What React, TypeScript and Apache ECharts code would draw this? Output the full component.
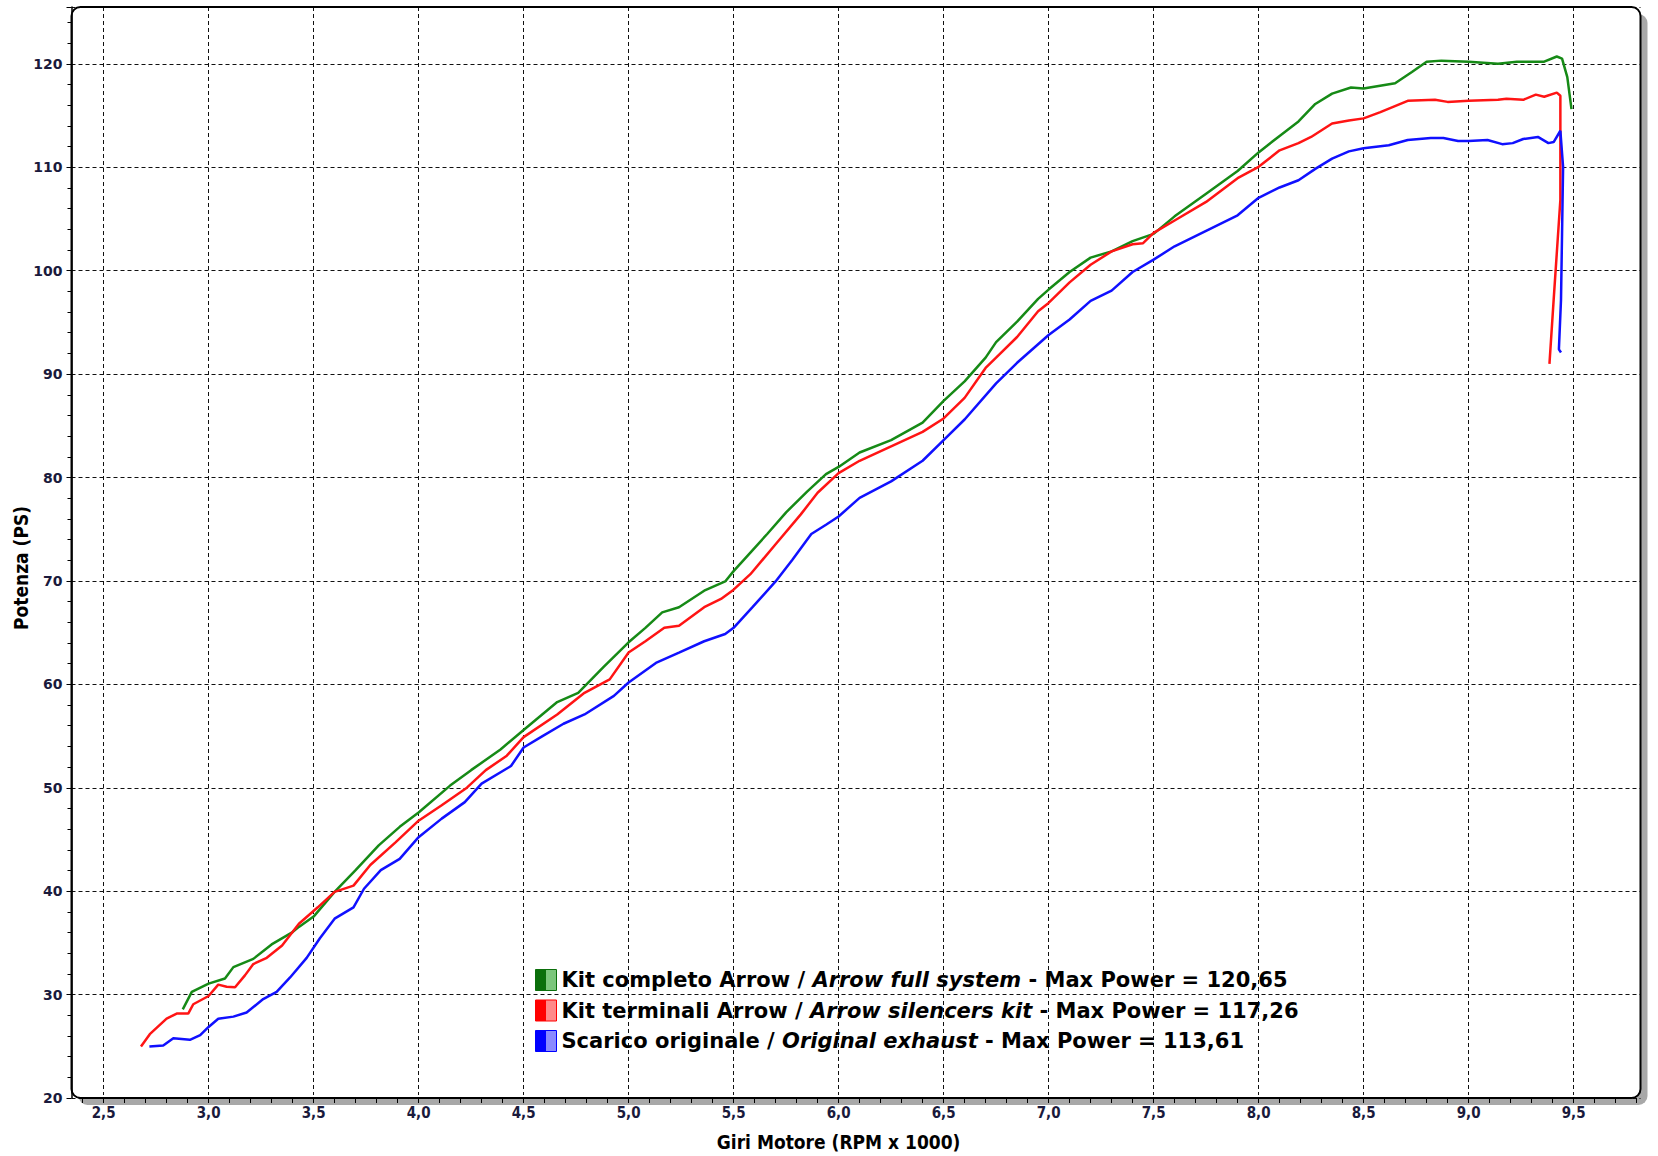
import React, { useEffect, useRef } from "react";
import * as echarts from "echarts";

// ---- data (RPM x 1000, PS) ----
const fullRpm = [2.877, 2.92, 3.0, 3.078, 3.118, 3.213, 3.3, 3.4, 3.43, 3.5, 3.6, 3.7, 3.81, 3.91, 4.0, 4.15, 4.25, 4.39, 4.5, 4.66, 4.76, 4.88, 5.0, 5.08, 5.16, 5.24, 5.36, 5.46, 5.5, 5.58, 5.66, 5.75, 5.85, 5.94, 6.0, 6.1, 6.25, 6.4, 6.5, 6.6, 6.7, 6.75, 6.85, 6.95, 7.0, 7.1, 7.2, 7.3, 7.4, 7.5, 7.6, 7.75, 7.9, 8.0, 8.1, 8.19, 8.27, 8.35, 8.44, 8.5, 8.65, 8.73, 8.8, 8.87, 9.0, 9.14, 9.23, 9.36, 9.42, 9.445, 9.47, 9.49];
const fullPs = [28.3, 30.0, 30.8, 31.3, 32.4, 33.2, 34.6, 35.8, 36.3, 37.3, 39.7, 41.8, 44.2, 46.0, 47.4, 50.0, 51.5, 53.5, 55.4, 58.1, 59.0, 61.5, 63.9, 65.3, 66.8, 67.3, 68.9, 69.8, 70.8, 72.6, 74.4, 76.5, 78.5, 80.2, 80.9, 82.3, 83.5, 85.2, 87.3, 89.2, 91.5, 93.0, 95.0, 97.2, 98.1, 99.8, 101.2, 101.8, 102.8, 103.5, 105.2, 107.4, 109.6, 111.4, 113.0, 114.4, 116.1, 117.1, 117.7, 117.6, 118.1, 119.2, 120.2, 120.3, 120.2, 120.0, 120.2, 120.2, 120.7, 120.5, 118.7, 115.6];

const silRpm = [2.678, 2.72, 2.8, 2.848, 2.903, 2.927, 3.0, 3.046, 3.086, 3.126, 3.173, 3.213, 3.277, 3.35, 3.43, 3.52, 3.6, 3.69, 3.77, 3.89, 4.0, 4.11, 4.23, 4.32, 4.42, 4.5, 4.66, 4.79, 4.91, 5.0, 5.08, 5.17, 5.24, 5.36, 5.44, 5.5, 5.58, 5.7, 5.82, 5.9, 6.0, 6.1, 6.25, 6.4, 6.5, 6.6, 6.7, 6.75, 6.85, 6.95, 7.0, 7.1, 7.2, 7.3, 7.4, 7.45, 7.5, 7.6, 7.75, 7.9, 8.0, 8.1, 8.19, 8.25, 8.35, 8.43, 8.5, 8.58, 8.71, 8.84, 8.9, 9.0, 9.14, 9.18, 9.26, 9.32, 9.36, 9.42, 9.437, 9.437, 9.405, 9.385];
const silPs = [24.7, 25.9, 27.4, 27.9, 27.9, 28.8, 29.6, 30.7, 30.5, 30.45, 31.6, 32.7, 33.3, 34.5, 36.6, 38.2, 39.7, 40.3, 42.3, 44.5, 46.6, 48.1, 49.8, 51.5, 52.9, 54.7, 56.9, 59.0, 60.3, 62.9, 64.0, 65.3, 65.5, 67.3, 68.1, 69.0, 70.5, 73.4, 76.3, 78.4, 80.3, 81.5, 82.9, 84.3, 85.6, 87.6, 90.5, 91.5, 93.5, 96.0, 96.8, 98.8, 100.5, 101.8, 102.5, 102.6, 103.6, 104.8, 106.6, 108.9, 110.0, 111.6, 112.3, 112.9, 114.2, 114.5, 114.7, 115.3, 116.4, 116.5, 116.3, 116.4, 116.5, 116.6, 116.5, 117.0, 116.8, 117.2, 116.9, 106.8, 97.1, 90.9];

const origRpm = [2.718, 2.784, 2.832, 2.911, 2.96, 3.0, 3.046, 3.118, 3.181, 3.26, 3.324, 3.388, 3.467, 3.53, 3.6, 3.69, 3.74, 3.82, 3.91, 4.0, 4.11, 4.22, 4.3, 4.44, 4.5, 4.59, 4.69, 4.79, 4.93, 5.0, 5.13, 5.24, 5.36, 5.46, 5.5, 5.59, 5.7, 5.78, 5.87, 5.94, 6.0, 6.1, 6.25, 6.4, 6.5, 6.6, 6.75, 6.85, 7.0, 7.1, 7.2, 7.3, 7.4, 7.5, 7.6, 7.75, 7.9, 8.0, 8.1, 8.19, 8.27, 8.35, 8.43, 8.5, 8.62, 8.71, 8.82, 8.88, 8.95, 9.0, 9.09, 9.16, 9.21, 9.26, 9.33, 9.38, 9.405, 9.437, 9.45, 9.445, 9.44, 9.43, 9.44];
const origPs = [24.7, 24.8, 25.5, 25.35, 25.8, 26.6, 27.4, 27.6, 28.0, 29.3, 30.0, 31.4, 33.3, 35.2, 37.1, 38.2, 40.0, 41.8, 42.9, 45.0, 46.8, 48.4, 50.2, 51.9, 53.7, 54.8, 56.0, 56.9, 58.7, 60.0, 61.9, 62.9, 64.0, 64.7, 65.3, 67.3, 69.8, 71.9, 74.4, 75.3, 76.1, 77.9, 79.5, 81.5, 83.5, 85.5, 89.0, 91.0, 93.7, 95.2, 97.0, 98.0, 99.8, 101.0, 102.3, 103.8, 105.3, 107.0, 108.0, 108.7, 109.8, 110.8, 111.5, 111.8, 112.1, 112.6, 112.8, 112.8, 112.5, 112.5, 112.6, 112.2, 112.3, 112.7, 112.9, 112.3, 112.4, 113.5, 110.0, 103.5, 97.1, 92.3, 92.0];

const seriesNames = [
  "Kit completo Arrow / Arrow full system",
  "Kit terminali Arrow / Arrow silencers kit",
  "Scarico originale / Original exhaust",
];
const legendParts: string[][] = [
  ["Kit completo Arrow / ", "Arrow full system", " - Max Power = 120,65"],
  ["Kit terminali Arrow / ", "Arrow silencers kit", " - Max Power = 117,26"],
  ["Scarico originale / ", "Original exhaust", " - Max Power = 113,61"],
];
const lineColors = ["#168a16", "#ff1414", "#1010ff"];
const iconColors = [
  ["#0b6f0b", "#7cc67c"],
  ["#ff0000", "#ff8a8a"],
  ["#0000ff", "#8a8aff"],
];

const yMin = 20;
const yMax = 125.5;
const xLabelMin = 2.5;
const xLabelMax = 9.5;
const xTickMin = 2.4;
const xTickMax = 9.8;

const pairs = (xs: number[], ys: number[]) => xs.map((x, i) => [x, ys[i]]);

export default function App() {
  const ref = useRef<HTMLDivElement>(null);
  useEffect(() => {
    document.body.style.margin = "0";
    const chart = echarts.init(ref.current!, null, { renderer: "svg" });

    // pixel layout
    const frameL = 71.5, frameT = 7, frameR = 1640.5, frameB = 1098;
    const pxPerUnit = 210;
    const x25 = 103.6;
    const dataL = x25;
    const dataW = (xLabelMax - xLabelMin) * pxPerUnit;
    const tickL = x25 - (xLabelMin - xTickMin) * pxPerUnit;
    const tickW = (xTickMax - xTickMin) * pxPerUnit;
    const H = frameB - frameT;

    const labelColor = "#1a1a3c";
    const datas = [pairs(fullRpm, fullPs), pairs(silRpm, silPs), pairs(origRpm, origPs)];
    const legendFont = "'DejaVu Sans', Verdana, sans-serif";

    const option: any = {
      animation: false,
      backgroundColor: "#ffffff",
      grid: [
        { left: frameL, top: frameT, width: frameR - frameL, height: H },
        { left: dataL, top: frameT, width: dataW, height: H },
        { left: tickL, top: frameT, width: tickW, height: H },
      ],
      xAxis: [
        { gridIndex: 0, type: "value", min: 0, max: 1, show: false },
        {
          gridIndex: 1,
          type: "value",
          min: xLabelMin,
          max: xLabelMax,
          interval: 0.5,
          axisLine: { show: false },
          axisTick: { show: false },
          axisLabel: {
            margin: 10,
            color: labelColor,
            fontFamily: "'DejaVu Sans Condensed', 'DejaVu Sans', sans-serif",
            fontWeight: "bold",
            fontSize: 15,
            formatter: (v: number) => v.toFixed(1).replace(".", ","),
          },
          splitLine: { show: true, lineStyle: { color: "#111", width: 1, type: [4, 3] } },
          name: "Giri Motore (RPM x 1000)",
          nameLocation: "middle",
          nameGap: 37,
          nameTextStyle: {
            color: "#000",
            fontFamily: "'DejaVu Sans Condensed', 'DejaVu Sans', sans-serif",
            fontWeight: "bold",
            fontSize: 19,
          },
        },
        {
          gridIndex: 2,
          type: "value",
          min: xTickMin,
          max: xTickMax,
          interval: 0.1,
          axisLine: { show: false },
          axisTick: { show: true, length: 5, inside: false, lineStyle: { color: "#000", width: 1 } },
          axisLabel: { show: false },
          splitLine: { show: false },
        },
      ],
      yAxis: [
        {
          gridIndex: 0,
          type: "value",
          min: yMin,
          max: yMax,
          interval: 10,
          axisLine: { show: true, lineStyle: { color: "#000", width: 1.5 } },
          axisTick: { show: true, length: 5, lineStyle: { color: "#000", width: 1 } },
          minorTick: { show: true, splitNumber: 5, length: 4, lineStyle: { color: "#000", width: 1 } },
          axisLabel: {
            margin: 9,
            color: labelColor,
            fontFamily: "'DejaVu Sans', Verdana, sans-serif",
            fontWeight: "bold",
            fontSize: 14,
            showMaxLabel: false,
          },
          splitLine: { show: true, lineStyle: { color: "#111", width: 1, type: [4, 3] } },
        },
        { gridIndex: 1, type: "value", min: yMin, max: yMax, show: false },
        { gridIndex: 2, type: "value", min: yMin, max: yMax, show: false },
      ],
      legend: {
        orient: "vertical",
        left: 530,
        top: 964,
        itemWidth: 21,
        itemHeight: 21,
        itemGap: 8.5,
        icon: "rect",
        selectedMode: false,
        data: seriesNames.map((n, i) => ({
          name: n,
          itemStyle: {
            color: new echarts.graphic.LinearGradient(0, 0, 1, 0, [
              { offset: 0, color: iconColors[i][0] },
              { offset: 0.5, color: iconColors[i][0] },
              { offset: 0.5, color: iconColors[i][1] },
              { offset: 1, color: iconColors[i][1] },
            ]),
            borderColor: iconColors[i][0],
            borderWidth: 1,
          },
        })),
        formatter: (name: string) => {
          const i = seriesNames.indexOf(name);
          const p = legendParts[i];
          return `{b|${p[0]}}{i|${p[1]}}{b|${p[2]}}`;
        },
        textStyle: {
          lineHeight: 21,
          rich: {
            b: { fontFamily: legendFont, fontWeight: "bold", fontSize: 21, lineHeight: 21, color: "#000" },
            i: { fontFamily: legendFont, fontWeight: "bold", fontStyle: "italic", fontSize: 21, lineHeight: 21, color: "#000" },
          },
        },
      },
      graphic: [
        {
          type: "rect",
          z: -20,
          silent: true,
          shape: { x: frameL + 7, y: frameT + 7, width: frameR - frameL, height: H, r: 9 },
          style: { fill: "#a8a8a8" },
        },
        {
          type: "rect",
          z: -10,
          silent: true,
          shape: { x: frameL, y: frameT, width: frameR - frameL, height: H, r: 9 },
          style: { fill: "#ffffff" },
        },
        {
          type: "rect",
          z: 50,
          silent: true,
          shape: { x: frameL, y: frameT, width: frameR - frameL, height: H, r: 9 },
          style: { fill: "none", stroke: "#000", lineWidth: 2 },
        },
        {
          type: "text",
          z: 50,
          x: 21,
          y: 568,
          rotation: Math.PI / 2,
          style: {
            text: "Potenza (PS)",
            fill: "#000",
            font: "bold 19px 'DejaVu Sans Condensed', 'DejaVu Sans', sans-serif",
            textAlign: "center",
            textVerticalAlign: "middle",
          },
        },
      ],
      series: seriesNames.map((n, i) => ({
        name: n,
        type: "line",
        xAxisIndex: 1,
        yAxisIndex: 1,
        data: datas[i],
        showSymbol: false,
        symbol: "none",
        smooth: false,
        lineStyle: { color: lineColors[i], width: 2.5 },
        itemStyle: { color: lineColors[i] },
        z: 5,
      })),
    };
    chart.setOption(option);
    return () => chart.dispose();
  }, []);
  return <div ref={ref} style={{ width: 1658, height: 1156 }} />;
}
